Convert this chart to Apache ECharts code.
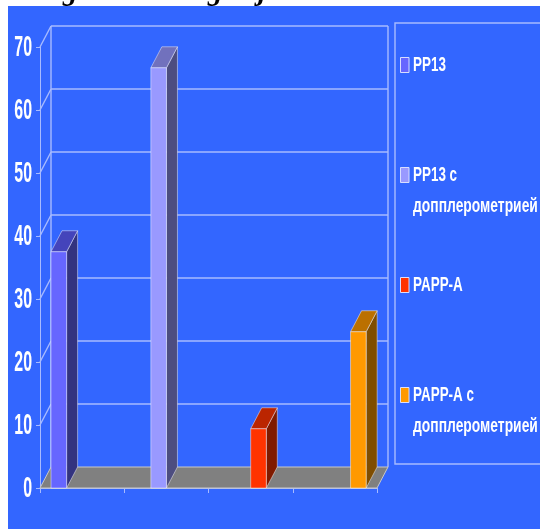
<!DOCTYPE html>
<html lang="ru">
<head>
<meta charset="UTF-8">
<title>Chart</title>
<script src="https://cdn.jsdelivr.net/npm/echarts@6/dist/echarts.min.js"></script>
<style>
html,body{margin:0;padding:0;background:#fff;}
#main{width:540px;height:529px;}
</style>
</head>
<body>
<div id="main"></div>
<script type="text/javascript">
var categories = ['1', '2', '3', '4'];
var yTicks = [0, 10, 20, 30, 40, 50, 60, 70];
var names = ['PP13', 'PP13 с\nдопплерометрией', 'PAPP-A', 'PAPP-A с\nдопплерометрией'];
var pp13 = [37.5, null, null, null];
var pp13Doppler = [null, 66.7, null, null];
var papp = [null, null, 9.4, null];
var pappDoppler = [null, null, null, 24.8];
var frontColors = ['#6666FF', '#9999FF', '#FF3300', '#FF9900'];
var topColors = ['#4444BB', '#7171BD', '#BB2500', '#BB7000'];
var sideColors = ['#33337F', '#4D4D80', '#7F1A00', '#7F4D00'];
// the title is cut off by the blue panel, only these tails show
var titleTails = ['g', 'g', 'j'];
var titleTailX = [63, 208, 258];
var legendY = [65, 175, 285, 395];

var DX = 11, DY = -21;
var BAR = 15.6, GAP = 11;
var LINE = '#A8BBFF';
var FONT = '"Liberation Sans", Arial, sans-serif';
var myChart = echarts.init(document.getElementById('main'));

// 3d box: front, top and side faces
function barItem(s) {
    return function (params, api) {
        var v = api.value(1);
        if (v == null || isNaN(v)) return;
        var band = api.size([1, 0])[0];
        var c = api.coord([api.value(0), v]);
        var base = api.coord([api.value(0), 0])[1];
        var x = c[0] - band / 2 + GAP + s * BAR, y = c[1];
        var edge = {stroke: 'rgba(255,255,255,0.45)', lineWidth: 1};
        return {type: 'group', silent: true, children: [
            {type: 'polygon', shape: {points: [[x + BAR, y], [x + BAR + DX, y + DY], [x + BAR + DX, base + DY], [x + BAR, base]]},
                style: Object.assign({fill: sideColors[s]}, edge)},
            {type: 'polygon', shape: {points: [[x, y], [x + DX, y + DY], [x + BAR + DX, y + DY], [x + BAR, y]]},
                style: Object.assign({fill: topColors[s]}, edge)},
            {type: 'rect', shape: {x: x, y: y, width: BAR, height: base - y},
                style: Object.assign({fill: frontColors[s]}, edge)}
        ]};
    };
}

function barSeries(i, data) {
    return {
        name: names[i],
        type: 'custom',
        z: 5,
        itemStyle: {color: frontColors[i]},
        renderItem: barItem(i),
        encode: {x: 0, y: 1},
        data: data.map(function (v, k) { return [k, v]; })
    };
}

// back wall lines, the diagonals to the axis and the squeezed tick labels
function wallItem(params, api) {
    var t = api.value(0);
    var p = api.coord([0, t]);
    var band = api.size([1, 0])[0];
    var x0 = p[0] - band / 2, y = p[1];
    var xEnd = x0 + band * categories.length;
    var st = {stroke: LINE, lineWidth: 1.4};
    var kids = [];
    if (t > 0) {
        kids.push({type: 'line', shape: {x1: x0 + DX, y1: y + DY, x2: xEnd + DX, y2: y + DY}, style: st});
        kids.push({type: 'line', shape: {x1: x0, y1: y, x2: x0 + DX, y2: y + DY}, style: st});
    }
    if (t === yTicks[yTicks.length - 1]) {
        var bottom = api.coord([0, 0])[1];
        kids.push({type: 'line', shape: {x1: x0 + DX, y1: y + DY, x2: x0 + DX, y2: bottom + DY}, style: st});
        kids.push({type: 'line', shape: {x1: xEnd + DX, y1: y + DY, x2: xEnd + DX, y2: bottom + DY}, style: st});
    }
    kids.push({type: 'text', x: x0 - 8, y: y + 1, scaleX: 0.55, style: {
        text: String(t), fill: '#fff', align: 'right', verticalAlign: 'middle',
        font: 'bold 29px ' + FONT
    }});
    return {type: 'group', silent: true, children: kids};
}

function floorItem(params, api) {
    var band = api.size([1, 0])[0];
    var p = api.coord([0, 0]);
    var x0 = p[0] - band / 2, y = p[1], xEnd = x0 + band * categories.length;
    return {type: 'polygon', silent: true, shape: {points: [[x0, y], [x0 + DX, y + DY], [xEnd + DX, y + DY], [xEnd, y]]},
        style: {fill: '#808080', stroke: '#C8C8C8', lineWidth: 1}};
}

var graphics = [
    {type: 'rect', z: -10, silent: true, shape: {x: 8, y: 6, width: 532, height: 523}, style: {fill: '#3366FF'}},
    {type: 'rect', z: 1, silent: true, shape: {x: 395, y: 23, width: 150, height: 441}, style: {fill: 'none', stroke: LINE, lineWidth: 1.4}}
];
titleTails.forEach(function (s, i) {
    graphics.push({type: 'text', z: -20, silent: true, x: titleTailX[i], y: 7, style: {
        text: s, fill: '#000', verticalAlign: 'bottom', font: 'italic bold 29px "Liberation Serif", serif'
    }});
});
// legend keys and labels, labels squeezed like the original
names.forEach(function (n, i) {
    var parts = n.split('\n');
    graphics.push({type: 'rect', z: 2, silent: true, shape: {x: 400.5, y: legendY[i] - 7.5, width: 8.5, height: 15},
        style: {fill: frontColors[i], stroke: '#D8DEFF', lineWidth: 1}});
    parts.forEach(function (line, k) {
        graphics.push({type: 'text', z: 2, silent: true, x: 413, y: legendY[i] + k * 31, scaleX: k ? 0.66 : 0.64, style: {
            text: line, fill: '#fff', verticalAlign: 'middle', font: 'bold 21px ' + FONT
        }});
    });
});

myChart.setOption({
    animation: false,
    backgroundColor: '#fff',
    graphic: graphics,
    grid: {left: 40, right: 163, top: 47, bottom: 41},
    xAxis: {
        type: 'category',
        data: categories,
        axisLine: {lineStyle: {color: LINE, width: 1}},
        axisTick: {show: true, alignWithLabel: false, length: 5, lineStyle: {color: LINE}},
        axisLabel: {show: false}
    },
    yAxis: {
        type: 'value',
        min: 0,
        max: 70,
        interval: 10,
        axisLine: {show: true, lineStyle: {color: LINE, width: 1}},
        axisTick: {show: true, length: 4, lineStyle: {color: LINE}},
        splitLine: {show: false},
        axisLabel: {show: false}
    },
    series: [
        {type: 'custom', silent: true, z: 1, renderItem: wallItem, encode: {y: 0}, data: yTicks.map(function (t) { return [t]; })},
        {type: 'custom', silent: true, z: 2, renderItem: floorItem, encode: {y: 0}, data: [[0]]},
        barSeries(0, pp13),
        barSeries(1, pp13Doppler),
        barSeries(2, papp),
        barSeries(3, pappDoppler)
    ]
});
</script>
</body>
</html>
